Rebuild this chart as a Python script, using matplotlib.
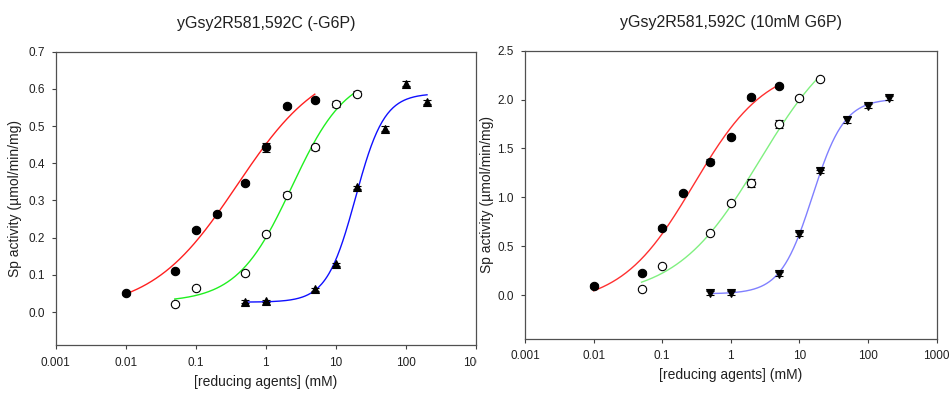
import numpy as np
import matplotlib
matplotlib.use('Agg')
import matplotlib.pyplot as plt
from matplotlib.patches import Rectangle

plt.rcParams['font.family'] = ['Liberation Sans', 'DejaVu Sans']

# ---- data ----
# left panel: no G6P
L_red_x = [0.01, 0.05, 0.1, 0.2, 0.5, 1, 2, 5]
L_red_y = [0.050, 0.110, 0.220, 0.263, 0.347, 0.443, 0.554, 0.571]
L_red_e = [0.004, 0.004, 0.005, 0.005, 0.006, 0.012, 0.005, 0.005]

L_grn_x = [0.05, 0.1, 0.5, 1, 2, 5, 10, 20]
L_grn_y = [0.022, 0.064, 0.104, 0.210, 0.316, 0.443, 0.560, 0.587]
L_grn_e = [0.003, 0.003, 0.004, 0.004, 0.006, 0.006, 0.008, 0.007]

L_blu_x = [0.5, 1, 5, 10, 20, 50, 100, 200]
L_blu_y = [0.028, 0.030, 0.061, 0.128, 0.335, 0.493, 0.614, 0.565]
L_blu_e = [0.003, 0.003, 0.004, 0.004, 0.005, 0.006, 0.006, 0.005]

# right panel: 10mM G6P
R_red_x = [0.01, 0.05, 0.1, 0.2, 0.5, 1, 2, 5]
R_red_y = [0.089, 0.229, 0.686, 1.045, 1.366, 1.619, 2.029, 2.138]
R_red_e = [0.02, 0.02, 0.02, 0.02, 0.03, 0.02, 0.02, 0.02]

R_grn_x = [0.05, 0.1, 0.5, 1, 2, 5, 10, 20]
R_grn_y = [0.065, 0.300, 0.635, 0.939, 1.148, 1.752, 2.018, 2.213]
R_grn_e = [0.01, 0.01, 0.01, 0.02, 0.04, 0.04, 0.02, 0.01]

R_blu_x = [0.5, 1, 5, 10, 20, 50, 100, 200]
R_blu_y = [0.018, 0.024, 0.219, 0.620, 1.264, 1.793, 1.933, 2.015]
R_blu_e = [0.02, 0.02, 0.02, 0.02, 0.02, 0.03, 0.02, 0.02]

xticks = [0.001, 0.01, 0.1, 1, 10, 100, 1000]
xtick_labels = ['0.001', '0.01', '0.1', '1', '10', '100', '1000']


def hill_fit(x, y):
    # 4-parameter logistic, grid over EC50 and slope, bottom/top by least squares
    x = np.asarray(x, float)
    y = np.asarray(y, float)
    lec = np.arange(-3, 3, 0.01)
    nn = np.arange(0.3, 4, 0.01)
    LE, NN = np.meshgrid(lec, nn, indexing='ij')
    f = 1.0 / (1.0 + (10 ** LE[..., None] / x) ** NN[..., None])
    g = 1 - f
    a11 = (g * g).sum(-1); a12 = (g * f).sum(-1); a22 = (f * f).sum(-1)
    b1 = (g * y).sum(-1); b2 = (f * y).sum(-1)
    det = a11 * a22 - a12 ** 2
    bot = (b1 * a22 - b2 * a12) / det
    top = (a11 * b2 - a12 * b1) / det
    res = ((bot[..., None] * g + top[..., None] * f - y) ** 2).sum(-1)
    i, j = np.unravel_index(np.nanargmin(res), res.shape)
    return bot[i, j], top[i, j], 10 ** lec[i], nn[j]


def curve(x, y):
    b, t, ec, n = hill_fit(x, y)
    xs = np.logspace(np.log10(min(x)), np.log10(max(x)), 200)
    return xs, b + (t - b) / (1 + (ec / xs) ** n)


fig = plt.figure(figsize=(9.51, 3.93), dpi=100)
axL = fig.add_axes([0.0586, 0.1209, 0.4419, 0.7475])
axR = fig.add_axes([0.5520, 0.1374, 0.4329, 0.7336])

ebkw = dict(fmt='none', ecolor='black', elinewidth=0.8, capsize=3, capthick=0.8, zorder=3)


def panel(ax, sets, ylim, yticks, ylabels, title):
    for (x, y, e, col, mk, fc) in sets:
        xs, ys = curve(x, y)
        ax.plot(xs, ys, color=col, lw=1.0, zorder=2)
        ax.errorbar(x, y, yerr=e, **ebkw)
        ax.plot(x, y, linestyle='none', marker=mk, markersize=6,
                markerfacecolor=fc, markeredgecolor='black', markeredgewidth=0.8, zorder=4)
    ax.set_xscale('log')
    ax.set_xlim(0.001, 1000)
    ax.set_ylim(*ylim)
    ax.set_xticks(xticks)
    ax.set_xticklabels(xtick_labels)
    ax.minorticks_off()
    ax.set_yticks(yticks)
    ax.set_yticklabels(ylabels)
    ax.tick_params(direction='out', length=3, width=0.8, labelsize=8.5,
                   color='#404040', labelcolor='#202020', pad=5)
    for s in ax.spines.values():
        s.set_color('#505050')
        s.set_linewidth(0.9)
    ax.set_xlabel('[reducing agents] (mM)', fontsize=10, color='#202020')
    ax.set_ylabel('Sp activity (\u00b5mol/min/mg)', fontsize=10, color='#202020')
    ax.set_title(title, fontsize=11.5, pad=17, color='#202020')


panel(axL,
      [(L_red_x, L_red_y, L_red_e, '#ff2020', 'o', 'black'),
       (L_grn_x, L_grn_y, L_grn_e, '#20f020', 'o', 'white'),
       (L_blu_x, L_blu_y, L_blu_e, '#1010ff', '^', 'black')],
      (-0.09, 0.7), [0, 0.1, 0.2, 0.3, 0.4, 0.5, 0.6, 0.7],
      ['0.0', '0.1', '0.2', '0.3', '0.4', '0.5', '0.6', '0.7'],
      'yGsy2R581,592C (-G6P)')
panel(axR,
      [(R_red_x, R_red_y, R_red_e, '#ff3030', 'o', 'black'),
       (R_grn_x, R_grn_y, R_grn_e, '#80f080', 'o', 'white'),
       (R_blu_x, R_blu_y, R_blu_e, '#8080ff', 'v', 'black')],
      (-0.45, 2.5), [0, 0.5, 1.0, 1.5, 2.0, 2.5],
      ['0.0', '0.5', '1.0', '1.5', '2.0', '2.5'],
      'yGsy2R581,592C (10mM G6P)')

axL.yaxis.set_label_coords(-0.08, 0.5)
axR.yaxis.set_label_coords(-0.075, 0.5)
axL.xaxis.set_label_coords(0.5, -0.10)
axR.xaxis.set_label_coords(0.5, -0.10)

# the left panel was cut off at its right edge in the original
fig.patches.append(Rectangle((477 / 951, 0), 28 / 951, 0.11, transform=fig.transFigure,
                             facecolor='white', edgecolor='none', zorder=5))

fig.savefig('out.png', dpi=100)
